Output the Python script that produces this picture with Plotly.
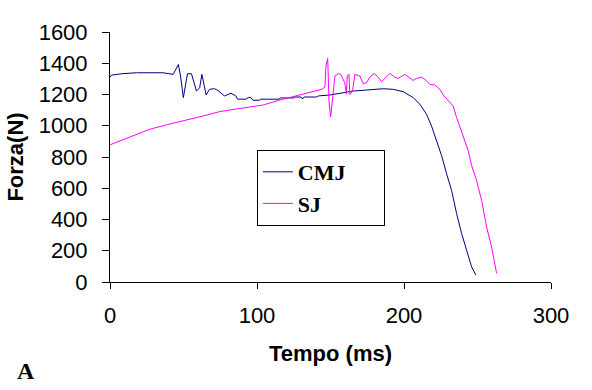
import plotly.graph_objects as go

cmj_t = [0, 1, 8, 18, 36, 43, 46.5, 48, 49.9, 51.4, 52.7, 55.4, 58.8, 61, 62.5, 65.4, 67.7, 71, 73.3,
         77.8, 82.3, 85.6, 86.8, 92.5, 94.3, 95.8, 97.3, 101.4, 102.5, 115, 116, 125, 126, 130,
         130.6, 131.5, 132, 140.6, 141.7, 149.6, 165.5, 185.9, 192.7, 199.5, 206.3, 210.8, 215.3,
         218.7, 222.1, 225.6, 229, 232.4, 235.8, 239.2, 242.6, 246, 248.9]
cmj_f = [1311, 1324, 1333, 1339, 1339, 1329, 1392, 1318, 1180, 1275, 1333, 1333, 1222, 1243, 1329,
         1197, 1233, 1237, 1227, 1191, 1208, 1191, 1170, 1170, 1182, 1180, 1163, 1163, 1170, 1170,
         1178, 1178, 1184, 1184, 1174, 1176, 1184, 1184, 1191, 1197, 1222, 1237, 1233, 1218, 1180,
         1138, 1074, 999, 904, 808, 692, 585, 437, 310, 203, 97, 44]

sj_t = [0, 6.8, 15.9, 27.2, 38.5, 52.1, 65.7, 74.8, 88.4, 104.3, 115.6, 129.2, 138.3, 144, 146.2,
        146.9, 148.1, 149, 150.1, 151.2, 153, 155.3, 157, 159.7, 160.8, 161.4, 162.5, 163.2, 165,
        166.6, 170, 172.3, 174.5, 176.8, 179.7, 182.4, 184.7, 187, 190.4, 193.8, 196, 200.6, 203.5,
        206.3, 208.5, 212, 215, 217.6, 221, 224.4, 226.7, 230, 233.4, 235.8, 238, 241.4, 243.7,
        246, 249.4, 252.8, 256.2, 259.6, 263]
sj_f = [878, 904, 936, 978, 1006, 1036, 1068, 1091, 1112, 1133, 1165, 1197, 1218, 1233, 1248,
        1382, 1431, 1159, 1057, 1159, 1318, 1333, 1329, 1275, 1205, 1318, 1329, 1200, 1222,
        1329, 1318, 1269, 1275, 1311, 1335, 1311, 1282, 1303, 1335, 1311, 1303, 1329, 1311,
        1290, 1303, 1311, 1290, 1265, 1261, 1233, 1197, 1159, 1127, 1052, 989, 904, 840,
        745, 649, 522, 352, 224, 55]

x_ticks = [0, 100, 200, 300]
y_ticks = [0, 200, 400, 600, 800, 1000, 1200, 1400, 1600]

pad = "&nbsp;" * 6

fig = go.Figure()
fig.add_trace(go.Scatter(x=cmj_t, y=cmj_f, mode="lines", name="<b>CMJ</b>" + pad,
                         line=dict(color="#000080", width=1), legendgroup="a"))
fig.add_trace(go.Scatter(x=sj_t, y=sj_f, mode="lines", name="<b>SJ</b>",
                         line=dict(color="#FF00FF", width=1), legendgroup="b"))

fig.update_layout(
    width=592, height=390,
    margin=dict(l=110, r=41, t=32, b=108),
    paper_bgcolor="white", plot_bgcolor="white",
    font=dict(family="Liberation Sans, Arial", size=22, color="black"),
    showlegend=True,
    legend=dict(x=0.333, y=0.528, xanchor="left", yanchor="top",
                bordercolor="black", borderwidth=1, bgcolor="white",
                font=dict(family="Liberation Serif, Times New Roman", size=22, color="black"),
                traceorder="grouped", tracegroupgap=0, itemwidth=30),
    xaxis=dict(range=[0, 300], tickvals=x_ticks, showgrid=False, zeroline=False,
               showline=True, linecolor="black", linewidth=1,
               ticks="outside", ticklen=6, tickcolor="black", ticklabelstandoff=8,
               title=dict(text="<b>Tempo (ms)</b>", standoff=18, font=dict(size=22))),
    yaxis=dict(range=[0, 1600], tickvals=y_ticks, showgrid=False, zeroline=False,
               showline=True, linecolor="black", linewidth=1,
               ticks="outside", ticklen=7, tickcolor="black", ticklabelstandoff=10,
               title=dict(text="<b>Forza(N)</b>", standoff=8, font=dict(size=22))),
    annotations=[dict(text="<b>A</b>", xref="paper", yref="paper", x=-0.19, y=-0.356,
                      xanchor="center", yanchor="middle", showarrow=False,
                      font=dict(family="Liberation Serif, Times New Roman", size=24))],
)

fig.write_html("out.html", config={"displayModeBar": False},
               post_script="document.body.style.margin='0px';")
